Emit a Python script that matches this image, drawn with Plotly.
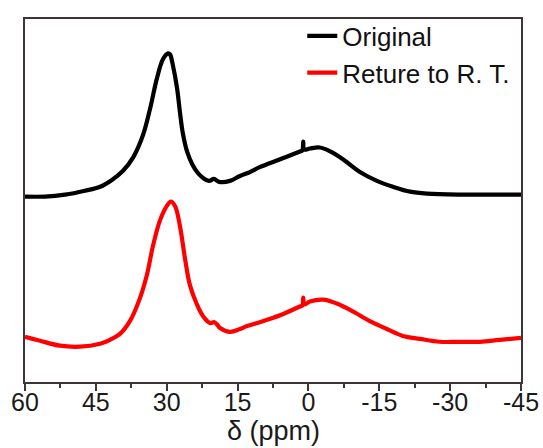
import plotly.graph_objects as go

# Chemical shift (ppm) and intensity (a.u.) readings for each spectrum
ppm_original = [60.0, 55.8, 51.5, 47.3, 44.1, 41.6, 39.3, 37.1, 35.0, 33.5, 32.1, 30.8,
                29.7, 29.3, 28.7, 27.8, 27.2, 26.6, 25.7, 24.6, 23.4, 22.3, 21.0, 20.0,
                18.9, 16.6, 14.5, 12.4, 10.3, 6.0, 1.8, 1.3, 1.1, 0.9, -0.3,
                -2.4, -4.6, -7.3, -10.9, -14.5, -17.9, -21.5, -25.1, -32.1, -38.4, -45.0]
int_original = [42, 42, 44, 48, 52, 59, 68, 82, 105, 132, 162, 182,
                188, 187, 176, 152, 128, 107, 88, 75, 66, 61, 58, 60,
                57, 58, 63, 67, 72, 80, 88, 89, 98, 90, 91,
                92, 88, 80, 67, 58, 52, 47, 45, 44, 44, 44]

ppm_rt = [60.0, 56.8, 52.6, 48.4, 44.1, 42.0, 39.9, 37.8, 35.7, 34.2, 32.9, 31.4,
          29.9, 29.1, 28.2, 27.2, 26.1, 25.1, 23.6, 22.3, 20.8, 20.0, 19.4, 18.7,
          16.6, 14.5, 13.0, 10.3, 6.0,
          1.8, 1.3, 1.1, 0.9, -0.3, -3.1, -6.0, -9.4, -13.0, -16.6, -20.0, -23.6,
          -27.8, -32.1, -36.3, -40.5, -45.0]
int_rt = [46, 42, 37, 36, 39, 43, 49, 62, 85, 109, 139, 165,
          180, 184, 179, 159, 125, 99, 79, 67, 60, 61, 59, 55,
          51, 54, 57, 61, 68,
          77, 78, 86, 79, 82, 84, 80, 72, 62, 54, 47, 44,
          41, 41, 41, 43, 45]

labels = ["Original", "Reture to R. T."]
tick_vals = [60, 45, 30, 15, 0, -15, -30, -45]
x_title = "δ (ppm)"

stack_offset = 147  # vertical shift of the upper spectrum

line_style = dict(width=4.2, shape="spline", smoothing=1.0)

fig = go.Figure()
fig.add_trace(go.Scatter(
    x=ppm_original, y=[v + stack_offset for v in int_original], name=labels[0],
    mode="lines", line=dict(color="#000000", **line_style),
))
fig.add_trace(go.Scatter(
    x=ppm_rt, y=int_rt, name=labels[1],
    mode="lines", line=dict(color="#ff0000", **line_style),
))

font_family = "Liberation Sans, Arial, sans-serif"
frame = "#3d3636"
text_color = "#1a1a1a"

fig.update_layout(
    width=543, height=448,
    margin=dict(l=25, r=22, t=12, b=66),
    paper_bgcolor="white", plot_bgcolor="white",
    font=dict(family=font_family, color=text_color, size=24),
    showlegend=True,
    legend=dict(
        x=0.559, y=1.018, xanchor="left", yanchor="top",
        bgcolor="rgba(0,0,0,0)", borderwidth=0,
        font=dict(size=26, family=font_family, color="#111"),
        tracegroupgap=0, itemwidth=30,
    ),
    xaxis=dict(
        range=[60, -45], tickmode="array", tickvals=tick_vals,
        ticktext=[str(v) for v in tick_vals],
        ticks="outside", ticklen=7, tickwidth=1.8, tickcolor=frame,
        minor=dict(dtick=7.5, tick0=0, ticks="outside", ticklen=4, tickwidth=1.8, tickcolor=frame),
        showline=True, linecolor=frame, linewidth=1.8, mirror=True,
        showgrid=False, zeroline=False, automargin=False,
        tickfont=dict(size=25, family=font_family, color=text_color),
        ticklabelstandoff=-10,
    ),
    yaxis=dict(
        range=[0, 370], showticklabels=False, ticks="", automargin=False,
        showline=True, linecolor=frame, linewidth=1.8, mirror=True,
        showgrid=False, zeroline=False,
    ),
    annotations=[dict(
        text=x_title, xref="paper", yref="paper", x=0.5, y=0,
        xanchor="center", yanchor="top", yshift=-32, showarrow=False,
        font=dict(size=27, family=font_family, color=text_color),
    )],
)

fig.write_html("out.html")
